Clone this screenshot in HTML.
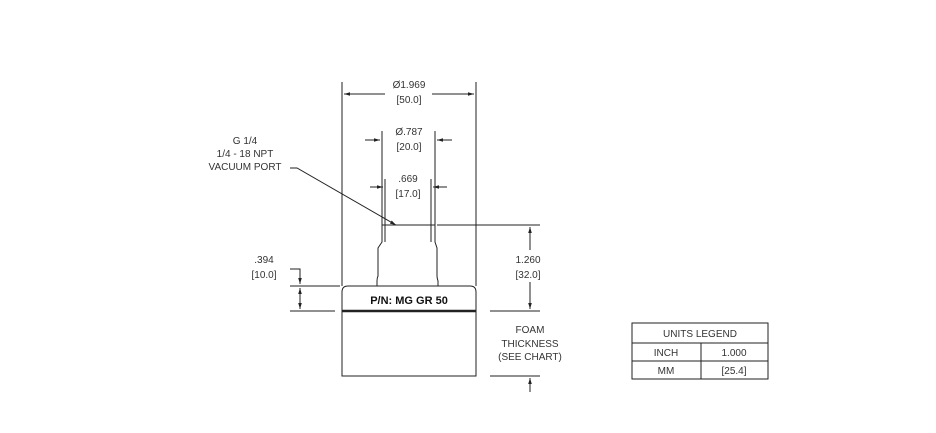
<!DOCTYPE html>
<html><head><style>body{margin:0;background:#fff}svg{display:block}text{font-family:"Liberation Sans",sans-serif;fill:#333;font-size:10px}</style></head>
<body><svg width="936" height="433" viewBox="0 0 936 433">
<defs><marker id="a" viewBox="0 0 10 10" refX="10" refY="5" markerWidth="8" markerHeight="6" orient="auto-start-reverse"><path d="M0,2L10,5L0,8z" fill="#222"/></marker></defs>
<g stroke="#222" stroke-width="1" fill="none">
<!-- body -->
<path d="M342,376V292Q342,286 348,286H470Q476,286 476,292V376Z"/>
<line x1="342" y1="311" x2="476" y2="311" stroke-width="2.5"/>
<!-- neck -->
<path d="M377,286V281Q377,278 378,276V248L382,242V225H435V242L437,248V276Q437,278 438,281V286"/>
<line x1="385" y1="225" x2="385" y2="242"/><line x1="431" y1="225" x2="431" y2="242"/>
<!-- extension lines -->
<line x1="342" y1="82" x2="342" y2="286"/><line x1="476" y1="82" x2="476" y2="286"/>
<line x1="382" y1="131" x2="382" y2="225"/><line x1="435" y1="131" x2="435" y2="225"/>
<line x1="385" y1="179" x2="385" y2="225"/><line x1="431" y1="179" x2="431" y2="225"/>
<!-- dims -->
<line x1="344" y1="94" x2="385" y2="94" marker-start="url(#a)"/><line x1="432" y1="94" x2="474" y2="94" marker-end="url(#a)"/>
<line x1="365" y1="140" x2="380" y2="140" marker-end="url(#a)"/><line x1="452" y1="140" x2="437" y2="140" marker-end="url(#a)"/>
<line x1="370" y1="187" x2="383" y2="187" marker-end="url(#a)"/><line x1="447" y1="187" x2="433" y2="187" marker-end="url(#a)"/>
<!-- leader -->
<path d="M290,168H297L396,225" marker-end="url(#a)"/>
<!-- 1.260 -->
<line x1="437" y1="225" x2="540" y2="225"/><line x1="490" y1="311" x2="540" y2="311"/>
<line x1="530" y1="250" x2="530" y2="227" marker-end="url(#a)"/><line x1="530" y1="282" x2="530" y2="309" marker-end="url(#a)"/>
<!-- .394 -->
<line x1="290" y1="286" x2="340" y2="286"/><line x1="290" y1="311" x2="335" y2="311"/>
<path d="M290,269H300V284" marker-end="url(#a)"/><line x1="300" y1="300" x2="300" y2="288" marker-end="url(#a)"/>
<line x1="300" y1="300" x2="300" y2="309" marker-end="url(#a)"/>
<!-- foam -->
<line x1="490" y1="376" x2="540" y2="376"/><line x1="530" y1="392" x2="530" y2="378" marker-end="url(#a)"/>
<!-- table -->
<rect x="632" y="323" width="136" height="56"/><line x1="632" y1="343" x2="768" y2="343"/><line x1="632" y1="361" x2="768" y2="361"/><line x1="701" y1="343" x2="701" y2="379"/>
</g>
<g text-anchor="middle">
<text x="409" y="88">Ø1.969</text><text x="409" y="103">[50.0]</text>
<text x="409" y="135">Ø.787</text><text x="409" y="150">[20.0]</text>
<text x="408" y="182">.669</text><text x="408" y="197">[17.0]</text>
<text x="245" y="144">G 1/4</text><text x="245" y="157">1/4 - 18 NPT</text><text x="245" y="170">VACUUM PORT</text>
<text x="528" y="263">1.260</text><text x="528" y="278">[32.0]</text>
<text x="264" y="263">.394</text><text x="264" y="278">[10.0]</text>
<text x="530" y="333">FOAM</text><text x="530" y="347">THICKNESS</text><text x="530" y="360">(SEE CHART)</text>
<text x="409" y="304" style="font-weight:bold;font-size:11px;fill:#111">P/N: MG GR 50</text>
<text x="700" y="337">UNITS LEGEND</text>
<text x="666" y="356">INCH</text><text x="734" y="356">1.000</text>
<text x="666" y="374">MM</text><text x="734" y="374">[25.4]</text>
</g>
</svg></body></html>
